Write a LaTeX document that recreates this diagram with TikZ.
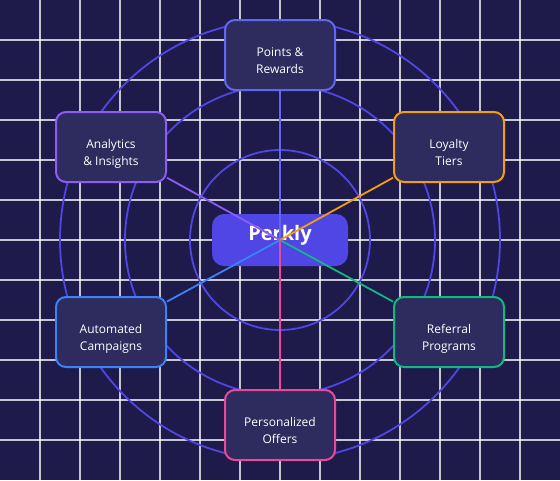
\documentclass[tikz,border=0pt]{standalone}
\usepackage{fontspec}
\setmainfont{Open Sans}
\definecolor{bgnavy}{HTML}{1E1B4B}
\definecolor{cardfill}{HTML}{2E2B5F}
\definecolor{ringblue}{HTML}{4F46E5}
\definecolor{hubfill}{HTML}{4F46E5}
\definecolor{cindigo}{HTML}{6366F1}
\definecolor{cviolet}{HTML}{8B5CF6}
\definecolor{camber}{HTML}{F59E0B}
\definecolor{cblue}{HTML}{3B82F6}
\definecolor{cgreen}{HTML}{10B981}
\definecolor{cpink}{HTML}{EC4899}
\tikzset{
  feature/.style={draw=#1, line width=2pt, fill=cardfill, rounded corners=10pt,
    minimum width=110pt, minimum height=70pt, align=center, text=white,
    text height=40pt, text depth=3pt,
    font=\fontsize{12}{17}\selectfont},
  spoke/.style={draw=#1, line width=1.8pt},
  ring/.style={draw=ringblue, line width=1.8pt}
}
\begin{document}
\begin{tikzpicture}[x=1pt, y=-1pt]
    % Background and grid
    \fill[bgnavy] (0,0) rectangle (560,480);
    \useasboundingbox (0,0) rectangle (560,480);
    \foreach \x in {40,80,...,520} \draw[white, opacity=0.75, line width=1.2pt] (\x,0) -- (\x,480);
    \foreach \y in {40,80,...,440} \draw[white, opacity=0.75, line width=1.2pt] (0,\y) -- (560,\y);

    % Rings round the hub
    \draw[ring] (280,240) circle[radius=90pt];
    \draw[ring] (280,240) circle[radius=155pt];
    \draw[ring] (280,240) circle[radius=220pt];

    % Hub
    \node[fill=hubfill, rounded corners=12pt, minimum width=136pt, minimum height=52pt,
      text height=14pt, text depth=14pt,
      text=white, font=\fontsize{20}{24}\selectfont\bfseries] (hub) at (280,240) {Perkly};

    % Features
    \node[feature=cindigo] (points) at (280,55) {Points \&\\Rewards};
    \node[feature=cviolet] (analytics) at (111,147) {Analytics\\\& Insights};
    \node[feature=camber] (loyalty) at (449,147) {Loyalty\\Tiers};
    \node[feature=cblue] (automated) at (111,332) {Automated\\Campaigns};
    \node[feature=cgreen] (referral) at (449,332) {Referral\\Programs};
    \node[feature=cpink] (offers) at (280,425) {Personalized\\Offers};

    % Spokes from the hub
    \draw[spoke=cindigo] (hub.center) -- (points);
    \draw[spoke=cviolet] (hub.center) -- (analytics);
    \draw[spoke=camber] (hub.center) -- (loyalty);
    \draw[spoke=cblue] (hub.center) -- (automated);
    \draw[spoke=cgreen] (hub.center) -- (referral);
    \draw[spoke=cpink] (hub.center) -- (offers);
\end{tikzpicture}
\end{document}
